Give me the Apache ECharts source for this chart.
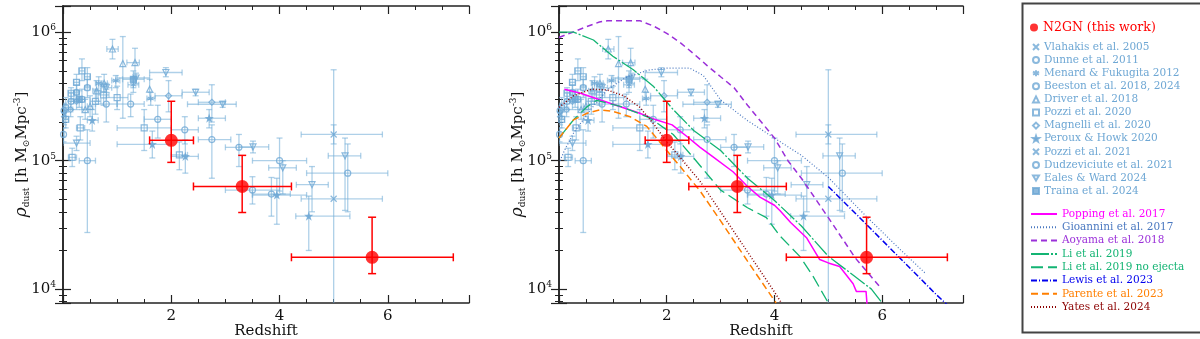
<!DOCTYPE html>
<html>
<head>
<meta charset="utf-8">
<title>Dust mass density vs redshift</title>
<script src="https://cdn.jsdelivr.net/npm/echarts@6/dist/echarts.min.js"></script>
</head>
<body style="margin:0">
<div id="main" style="width:1200px;height:339px;"></div>
<script type="text/javascript">
// every row: [z, rho, z_lo, z_hi, rho_lo, rho_hi]
var n2gn = [
  [2.0, 1.44e5, 1.6, 2.41, 9.7e4, 2.9e5],
  [3.31, 6.3e4, 2.41, 4.22, 3.95e4, 1.1e5],
  [5.71, 1.77e4, 4.22, 7.21, 1.32e4, 3.63e4]
];
var vlahakis = [[0.02, 2.3e5, 0.0, 0.04, 1.9e5, 2.8e5]];
var dunne = [
  [0.05, 2.6e5, 0.0, 0.1, 2.1e5, 3.1e5],
  [0.15, 2.9e5, 0.1, 0.2, 2.5e5, 3.4e5],
  [0.25, 3.4e5, 0.2, 0.3, 2.9e5, 3.9e5],
  [0.35, 3.0e5, 0.3, 0.4, 2.5e5, 3.6e5],
  [0.45, 3.7e5, 0.4, 0.5, 3.1e5, 4.3e5]
];
var menard = [
  [0.66, 4.0e5, 0.6, 0.72, 3.5e5, 4.5e5],
  [0.975, 4.2e5, 0.9, 1.05, 3.7e5, 4.6e5],
  [1.3, 3.9e5, 1.2, 1.4, 3.4e5, 4.4e5],
  [1.62, 3.05e5, 1.55, 1.7, 2.7e5, 3.4e5]
];
var beeston = [
  [0.01, 1.6e5, 0.0, 0.02, 1.4e5, 1.8e5],
  [0.02, 2.45e5, 0.0, 0.04, 2.2e5, 2.7e5],
  [0.45, 1.0e5, 0.3, 0.6, 2.76e4, 1.74e5],
  [0.8, 2.76e5, 0.6, 1.0, 2.0e5, 3.6e5],
  [1.25, 2.76e5, 1.0, 1.5, 2.2e5, 3.3e5],
  [1.75, 2.1e5, 1.5, 2.0, 1.5e5, 2.7e5],
  [2.25, 1.74e5, 2.0, 2.5, 1.35e5, 2.2e5]
];
var driver = [
  [0.41, 2.5e5, 0.35, 0.47, 2.1e5, 3.0e5],
  [0.5, 2.65e5, 0.45, 0.55, 2.2e5, 3.2e5],
  [0.62, 3.5e5, 0.55, 0.7, 2.9e5, 4.2e5],
  [0.76, 4.0e5, 0.7, 0.82, 3.4e5, 4.7e5],
  [0.914, 7.4e5, 0.81, 1.02, 6.2e5, 8.8e5],
  [1.105, 5.7e5, 1.105, 1.105, 2.14e5, 9.25e5],
  [1.33, 5.8e5, 1.18, 1.41, 4.5e5, 7.5e5],
  [1.6, 3.6e5, 1.6, 1.6, 3.0e5, 4.3e5]
];
var pozzi2020 = [
  [0.05, 2.1e5, 0.0, 0.1, 1.8e5, 2.4e5],
  [0.15, 3.35e5, 0.1, 0.2, 3.0e5, 3.7e5],
  [0.17, 1.06e5, 0.1, 0.25, 9.0e4, 1.25e5],
  [0.25, 4.07e5, 0.2, 0.3, 3.5e5, 4.7e5],
  [0.32, 1.8e5, 0.25, 0.4, 1.45e5, 2.2e5],
  [0.35, 5.0e5, 0.3, 0.4, 4.2e5, 6.2e5],
  [0.45, 4.5e5, 0.4, 0.5, 3.8e5, 5.3e5],
  [0.6, 2.9e5, 0.5, 0.7, 2.3e5, 3.6e5],
  [0.75, 3.25e5, 0.65, 0.85, 2.7e5, 3.9e5],
  [1.0, 3.1e5, 0.8, 1.2, 2.5e5, 3.8e5],
  [1.5, 1.8e5, 1.0, 2.0, 1.2e5, 2.5e5],
  [2.15, 1.11e5, 2.0, 2.3, 8.5e4, 1.4e5]
];
var magnelli = [
  [0.14, 2.5e5, 0.1, 0.18, 2.2e5, 2.9e5],
  [0.25, 2.9e5, 0.2, 0.3, 2.5e5, 3.3e5],
  [1.95, 3.2e5, 1.7, 2.2, 2.4e5, 4.2e5],
  [2.75, 2.85e5, 2.5, 3.0, 2.0e5, 3.9e5]
];
var peroux = [
  [0.54, 2.06e5, 0.45, 0.65, 1.7e5, 2.5e5],
  [1.65, 1.34e5, 1.0, 2.0, 1.05e5, 1.7e5],
  [2.26, 1.08e5, 2.0, 2.5, 8.0e4, 1.45e5],
  [2.7, 2.14e5, 2.5, 3.0, 1.8e5, 2.5e5],
  [3.95, 5.4e4, 3.5, 4.5, 3.2e4, 7.3e4],
  [4.54, 3.7e4, 4.3, 5.3, 2.0e4, 5.3e4]
];
var pozzi2021 = [
  [5.0, 1.6e5, 4.4, 5.9, 1.35e5, 1.9e5],
  [5.0, 5.05e4, 4.4, 5.9, 1.0e3, 5.1e5]
];
var dudzeviciute = [
  [2.75, 1.46e5, 2.5, 3.1, 7.3e4, 1.9e5],
  [3.25, 1.27e5, 3.0, 3.5, 9.0e4, 1.6e5],
  [3.5, 5.9e4, 3.0, 4.0, 4.6e4, 7.5e4],
  [3.85, 5.5e4, 3.5, 4.2, 3.7e4, 7.4e4],
  [4.0, 1.0e5, 3.5, 4.5, 5.8e4, 1.5e5],
  [5.26, 8.0e4, 4.5, 6.0, 4.0e4, 1.35e5]
];
var eales = [
  [0.25, 1.37e5, 0.0, 0.5, 1.2e5, 1.55e5],
  [0.8, 3.7e5, 0.7, 0.9, 3.4e5, 4.0e5],
  [1.35, 4.4e5, 1.0, 1.6, 4.0e5, 4.8e5],
  [1.9, 4.86e5, 1.6, 2.2, 4.5e5, 5.3e5],
  [2.45, 3.41e5, 2.2, 2.7, 3.2e5, 3.6e5],
  [2.95, 2.75e5, 2.3, 3.2, 2.6e5, 2.9e5],
  [3.51, 1.28e5, 3.25, 3.8, 1.15e5, 1.42e5],
  [4.06, 8.8e4, 3.8, 4.31, 5.5e4, 1.0e5],
  [4.6, 6.5e4, 4.31, 4.9, 4.0e4, 9.0e4],
  [5.21, 1.09e5, 4.9, 5.5, 4.1e4, 1.5e5]
];
var traina = [
  [0.3, 3.0e5, 0.2, 0.4, 2.6e5, 3.5e5],
  [1.3, 4.3e5, 1.1, 1.5, 3.7e5, 5.0e5]
];

// model curves: [z, rho]
var popping = [[0.1,3.6e5],[0.4,3.35e5],[0.77,2.97e5],[1.14,2.63e5],[1.5,2.34e5],[1.8,2.08e5],[2.1,1.9e5],[2.37,1.55e5],[2.62,1.27e5],[2.86,1.07e5],[3.23,8.2e4],[3.5,6.3e4],[3.73,5.2e4],[4.0,4.5e4],[4.1,4.1e4],[4.3,3.3e4],[4.6,2.5e4],[4.84,1.7e4],[5.0,1.6e4],[5.21,1.5e4],[5.46,1.1e4],[5.52,9.6e3],[5.7,9.6e3],[5.72,7.5e3]];
var gioannini = [[0.02,1.0e5],[0.1,1.2e5],[0.27,1.64e5],[0.58,2.48e5],[0.89,3.55e5],[1.26,4.5e5],[1.69,5.1e5],[2.0,5.25e5],[2.43,5.25e5],[2.68,4.6e5],[3.0,2.97e5],[3.5,2.05e5],[4.0,1.5e5],[4.5,1.1e5],[5.0,7.4e4],[5.7,3.7e4],[6.3,2.1e4],[6.8,1.33e4]];
var aoyama = [[0,9.1e5],[0.25,1.0e6],[0.5,1.1e6],[0.75,1.2e6],[0.9,1.23e6],[1.5,1.23e6],[1.75,1.12e6],[2.0,9.8e5],[2.25,8.3e5],[2.5,6.8e5],[2.75,5.5e5],[3.0,4.5e5],[3.25,3.7e5],[3.5,2.7e5],[4.0,1.5e5],[4.25,1.0e5],[4.5,7.3e4],[5.0,3.6e4],[5.5,1.75e4],[5.95,1.05e4]];
var li2019 = [[0,1.0e6],[0.27,1.0e6],[0.64,8.7e5],[1.0,6.5e5],[1.38,5.1e5],[1.75,3.8e5],[2.12,2.5e5],[2.5,1.72e5],[3.0,1.2e5],[3.5,7.3e4],[4.0,4.9e4],[4.5,3.1e4],[5.0,1.8e4],[5.5,1.25e4],[5.8,1.0e4],[6.0,7.8e3]];
var li2019noej = [[0,1.5e5],[0.27,2.08e5],[0.52,2.63e5],[0.7,2.95e5],[1.14,2.65e5],[1.69,2.15e5],[2.12,1.6e5],[2.5,1.05e5],[3.0,5.9e4],[3.5,4.3e4],[3.85,3.6e4],[4.1,2.6e4],[4.47,1.8e4],[4.72,1.25e4],[5.0,7.8e3]];
var lewis = [[5.0,6.3e4],[5.5,3.9e4],[6.0,2.4e4],[6.5,1.48e4],[7.0,9.1e3],[7.2,7.6e3]];
var parente = [[0,1.5e5],[0.27,2.08e5],[0.52,2.34e5],[0.77,2.49e5],[1.0,2.42e5],[1.32,2.2e5],[1.63,1.85e5],[1.81,1.5e5],[2.0,1.2e5],[2.25,9.0e4],[2.62,5.8e4],[3.0,3.4e4],[3.5,1.65e4],[4.03,7.8e3]];
var yates = [[0,2.6e5],[0.27,3.2e5],[0.6,3.6e5],[0.9,3.55e5],[1.2,3.2e5],[1.5,2.6e5],[1.75,1.95e5],[2.0,1.4e5],[2.3,1.0e5],[2.62,6.9e4],[3.0,4.0e4],[3.5,1.95e4],[4.0,9.5e3],[4.13,7.8e3]];

var xTicks = [2, 4, 6];

var BLUE = '#6ea7d4';
var BLUE_ERR = 'rgba(120,176,216,0.6)';
var FONT = 'DejaVu Serif';

var litSets = [
  {name: 'Vlahakis et al. 2005', data: vlahakis, symbol: 'path://M0,0L10,10M0,10L10,0', fill: false},
  {name: 'Dunne et al. 2011', data: dunne, symbol: 'circle', fill: false},
  {name: 'Menard & Fukugita 2012', data: menard, symbol: 'path://M5,0L5,10M0,2.5L10,7.5M0,7.5L10,2.5', fill: false},
  {name: 'Beeston et al. 2018, 2024', data: beeston, symbol: 'circle', fill: false},
  {name: 'Driver et al. 2018', data: driver, symbol: 'triangle', fill: false},
  {name: 'Pozzi et al. 2020', data: pozzi2020, symbol: 'rect', fill: false},
  {name: 'Magnelli et al. 2020', data: magnelli, symbol: 'diamond', fill: false},
  {name: 'Peroux & Howk 2020', data: peroux, symbol: 'path://M5,0L6.2,3.6L10,3.6L7,5.9L8.1,9.5L5,7.3L1.9,9.5L3,5.9L0,3.6L3.8,3.6Z', fill: true},
  {name: 'Pozzi et al. 2021', data: pozzi2021, symbol: 'path://M0,0L10,10M0,10L10,0', fill: false},
  {name: 'Dudzeviciute et al. 2021', data: dudzeviciute, symbol: 'circle', fill: false},
  {name: 'Eales & Ward 2024', data: eales, symbol: 'path://M0,0L10,0L5,8.7Z', fill: false},
  {name: 'Traina et al. 2024', data: traina, symbol: 'rect', fill: true}
];

var models = [
  {name: 'Popping et al. 2017', data: popping, color: '#ff00ff', type: 'solid', width: 1.5},
  {name: 'Gioannini et al. 2017', data: gioannini, color: '#4a78c0', type: [1, 2], width: 1.2},
  {name: 'Aoyama et al. 2018', data: aoyama, color: '#9b30d9', type: [6, 4], width: 1.5},
  {name: 'Li et al. 2019', data: li2019, color: '#13b473', type: [18, 2, 2, 2], width: 1.3},
  {name: 'Li et al. 2019 no ejecta', data: li2019noej, color: '#13b473', type: [12, 5], width: 1.3},
  {name: 'Lewis et al. 2023', data: lewis, color: '#0000ee', type: [6, 2, 1, 2], width: 1.5},
  {name: 'Parente et al. 2023', data: parente, color: '#ff7f00', type: [7, 4], width: 1.5},
  {name: 'Yates et al. 2024', data: yates, color: '#8b0000', type: [1, 2], width: 1.5}
];

function errorBars(color, width, cap) {
  return function (params, api) {
    var x = api.value(0), y = api.value(1);
    var x0 = api.value(2), x1 = api.value(3), y0 = api.value(4), y1 = api.value(5);
    var st = {stroke: color, lineWidth: width};
    var kids = [];
    if (x1 > x0) {
      var a = api.coord([x0, y]), b = api.coord([x1, y]);
      kids.push({type: 'line', shape: {x1: a[0], y1: a[1], x2: b[0], y2: b[1]}, style: st});
      kids.push({type: 'line', shape: {x1: a[0], y1: a[1] - cap, x2: a[0], y2: a[1] + cap}, style: st});
      kids.push({type: 'line', shape: {x1: b[0], y1: b[1] - cap, x2: b[0], y2: b[1] + cap}, style: st});
    }
    if (y1 > y0) {
      var c = api.coord([x, y0]), d = api.coord([x, y1]);
      kids.push({type: 'line', shape: {x1: c[0], y1: c[1], x2: d[0], y2: d[1]}, style: st});
      kids.push({type: 'line', shape: {x1: c[0] - cap, y1: c[1], x2: c[0] + cap, y2: c[1]}, style: st});
      kids.push({type: 'line', shape: {x1: d[0] - cap, y1: d[1], x2: d[0] + cap, y2: d[1]}, style: st});
    }
    return {type: 'group', children: kids};
  };
}

var grids = [
  {left: 63, top: 6, width: 406, height: 297, outerBoundsMode: 'none'},
  {left: 559, top: 6, width: 404, height: 297, outerBoundsMode: 'none'}
];

var xAxes = [], yAxes = [], series = [];

grids.forEach(function (g, gi) {
  var xBase = {
    type: 'value', gridIndex: gi, min: 0, max: 7.5,
    splitLine: {show: false},
    axisLine: {show: true, lineStyle: {color: '#222', width: 1.5}},
    axisLabel: {show: false}
  };
  ['bottom', 'top'].forEach(function (pos) {
    xAxes.push(Object.assign({}, xBase, {
      position: pos, interval: 0.5,
      axisTick: {inside: true, length: 4, lineStyle: {color: '#222', width: 1}},
      axisLabel: {
        show: pos === 'bottom', margin: 6, color: '#111', fontFamily: FONT, fontSize: 15,
        formatter: function (v) { return xTicks.indexOf(v) >= 0 ? String(v) : ''; }
      },
      name: pos === 'bottom' ? 'Redshift' : '',
      nameLocation: 'middle', nameGap: 21, nameMoveOverlap: false,
      nameTextStyle: {color: '#111', fontFamily: FONT, fontSize: 15}
    }));
    xAxes.push(Object.assign({}, xBase, {
      position: pos, interval: 2,
      axisLine: {show: false},
      axisTick: {inside: true, length: 8, lineStyle: {color: '#222', width: 1.2}}
    }));
  });
  ['left', 'right'].forEach(function (pos) {
    yAxes.push({
      type: 'log', logBase: 10, gridIndex: gi, position: pos,
      min: 7800, max: 1.6e6,
      splitLine: {show: false},
      axisLine: {show: true, lineStyle: {color: '#222', width: 1.5}},
      axisTick: {inside: true, length: 8, lineStyle: {color: '#222', width: 1.2}},
      minorTick: {show: true, splitNumber: 9, length: 4, lineStyle: {color: '#222', width: 1}},
      axisLabel: {
        show: pos === 'left', margin: 7, color: '#111', fontFamily: FONT,
        formatter: function (v) {
          var e = Math.round(Math.log10(v));
          if (Math.abs(Math.log10(v) - e) > 1e-6) return '';
          return '{b|10}{e|' + e + '}';
        },
        rich: {
          b: {fontFamily: FONT, fontSize: 15, color: '#111'},
          e: {fontFamily: FONT, fontSize: 9, color: '#111', padding: [0, 0, 9, 0]}
        }
      },
      name: pos === 'left' ? '{g|ρ}{s|dust} [h M{s|⊙}Mpc{p|-3}]' : '',
      nameLocation: 'middle', nameRotate: 90, nameGap: 32, nameMoveOverlap: false,
      nameTextStyle: {
        color: '#111', fontFamily: FONT, fontSize: 15,
        rich: {
          g: {fontFamily: FONT, fontSize: 17, fontStyle: 'italic', color: '#111'},
          s: {fontFamily: FONT, fontSize: 9, color: '#111', padding: [9, 0, 0, 0]},
          p: {fontFamily: FONT, fontSize: 9, color: '#111', padding: [0, 0, 9, 0]}
        }
      }
    });
  });

  var xi = gi * 4, yi = gi * 2;

  litSets.forEach(function (s) {
    series.push({
      type: 'custom', name: '_err_' + s.name, xAxisIndex: xi, yAxisIndex: yi,
      renderItem: errorBars(BLUE_ERR, 1.3, 3), data: s.data, clip: true,
      encode: {x: 0, y: 1}, z: 2, silent: true
    });
    series.push({
      type: 'scatter', name: s.name, xAxisIndex: xi, yAxisIndex: yi,
      data: s.data.map(function (r) { return [r[0], r[1]]; }),
      symbol: s.symbol, symbolSize: 6, z: 3,
      itemStyle: {color: s.fill ? BLUE : 'rgba(255,255,255,0)', borderColor: BLUE, borderWidth: 1.2}
    });
  });

  if (gi === 1) {
    models.forEach(function (m) {
      series.push({
        type: 'line', name: m.name, xAxisIndex: xi, yAxisIndex: yi,
        data: m.data, symbol: 'none', showSymbol: false, z: 4,
        itemStyle: {color: m.color},
        lineStyle: {color: m.color, width: m.width, type: m.type}
      });
    });
  }

  series.push({
    type: 'custom', name: '_err_n2gn', xAxisIndex: xi, yAxisIndex: yi,
    renderItem: errorBars('#ff0000', 1.5, 4), data: n2gn, clip: true,
    encode: {x: 0, y: 1}, z: 5, silent: true
  });
  series.push({
    type: 'scatter', name: 'N2GN (this work)', xAxisIndex: xi, yAxisIndex: yi,
    data: n2gn.map(function (r) { return [r[0], r[1]]; }),
    symbol: 'circle', symbolSize: 13, z: 6,
    itemStyle: {color: '#ff0000'}
  });
});

var chart = echarts.init(document.getElementById('main'));
chart.setOption({
  animation: false,
  backgroundColor: '#ffffff',
  grid: grids,
  xAxis: xAxes,
  yAxis: yAxes,
  series: series,
  graphic: [{
    type: 'rect', left: 1020, top: 1,
    shape: {width: 200, height: 329},
    style: {fill: 'none', stroke: '#444', lineWidth: 2}
  }],
  legend: [
    {
      orient: 'vertical', left: 1030, top: 21, padding: 0, selectedMode: false,
      itemWidth: 8, itemHeight: 8,
      data: [{name: 'N2GN (this work)', icon: 'circle'}],
      textStyle: {color: '#ff0000', fontFamily: FONT, fontSize: 12.5}
    },
    {
      orient: 'vertical', left: 1032, top: 41, padding: 0, selectedMode: false,
      itemWidth: 6, itemHeight: 6, itemGap: 1.1,
      data: litSets.map(function (s) { return {name: s.name}; }),
      textStyle: {color: BLUE, fontFamily: FONT, fontSize: 10.5, lineHeight: 12}
    },
    {
      orient: 'vertical', left: 1030, top: 208, padding: 0, selectedMode: false,
      itemWidth: 26, itemHeight: 8, itemGap: 1.3,
      itemStyle: {opacity: 0},
      data: models.map(function (m) { return {name: m.name, textStyle: {color: m.color}}; }),
      textStyle: {fontFamily: FONT, fontSize: 10.5, lineHeight: 12}
    }
  ]
});
</script>
</body>
</html>
